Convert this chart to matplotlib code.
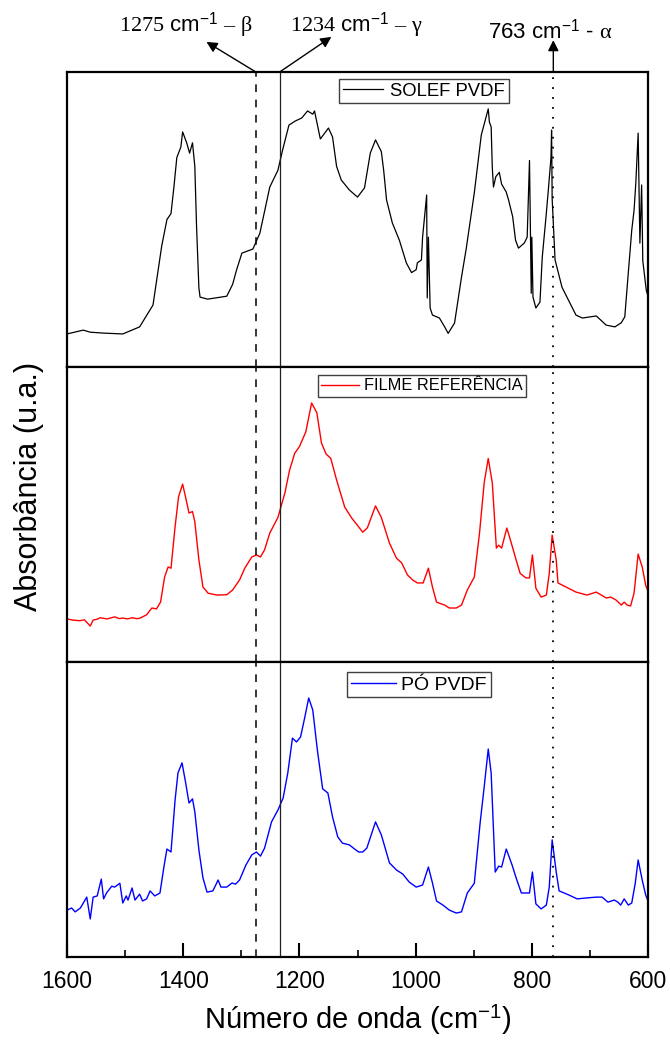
# FTIR spectra of PVDF samples, three stacked panels

import matplotlib.pyplot as plt
from matplotlib.ticker import MultipleLocator

plt.rcParams['font.family'] = ['Liberation Sans', 'DejaVu Sans']
plt.rcParams['mathtext.fontset'] = 'custom'
plt.rcParams['mathtext.rm'] = 'Liberation Serif'
plt.rcParams['mathtext.it'] = 'Liberation Serif:italic'
plt.rcParams['mathtext.bf'] = 'Liberation Serif:bold'
plt.rcParams['mathtext.sf'] = 'Liberation Sans'

# SOLEF PVDF (normalised absorbance, u.a.)
wn_solef = [1600, 1572, 1560, 1538, 1504, 1475, 1452, 1437, 1428, 1421, 1416, 1411,
            1404, 1401, 1394, 1389, 1384, 1380, 1377, 1373, 1371, 1358, 1325, 1315,
            1308, 1299, 1280, 1268, 1251, 1237, 1229, 1218, 1207, 1196, 1186, 1177,
            1174, 1170, 1164, 1150, 1143, 1136, 1128, 1114, 1100, 1088, 1078, 1069,
            1059, 1055, 1050, 1040, 1028, 1016, 1007, 999, 997, 990, 988, 981, 980,
            978, 975, 971, 959, 950, 944, 933, 921, 913, 899, 887, 875, 873, 870,
            868, 866, 862, 856, 852, 844, 840, 833, 828, 823, 813, 808, 804, 801,
            800, 798, 793, 786, 782, 776, 772, 767, 766, 765, 760, 748, 724, 713,
            689, 672, 657, 646, 640, 634, 628, 624, 621, 617, 614, 611, 609, 603, 600]
ab_solef = [.112, .125, .118, .115, .112, .136, .21, .41, .50, .52, .61, .71,
            .746, .797, .76, .725, .76, .68, .475, .268, .237, .23, .24, .28,
            .33, .386, .40, .454, .61, .667, .735, .82, .834, .844, .868, .857,
            .868, .83, .773, .81, .78, .68, .634, .60, .576, .607, .725, .77,
            .73, .667, .566, .488, .43, .353, .32, .33, .353, .363, .44, .583, .234,
            .44, .20, .176, .166, .136, .114, .149, .305, .40, .59, .786, .875, .83, .814,
            .675, .61, .645, .66, .62, .593, .566, .51, .43, .403, .42, .44, .70, .25,
            .44, .237, .20, .22, .373, .50, .59, .71, .803, .57, .363, .27, .176, .166,
            .173, .142, .136, .15, .17, .318, .464, .532, .624, .793, .42, .617, .36, .26, .24]

# Filme referência
wn_filme = [1600, 1590, 1578, 1570, 1560, 1555, 1548, 1543, 1531, 1518, 1510, 1504,
            1496, 1488, 1480, 1475, 1463, 1454, 1446, 1439, 1432, 1426, 1421, 1414,
            1408, 1401, 1396, 1390, 1384, 1380, 1373, 1366, 1357, 1342, 1325, 1315,
            1303, 1294, 1282, 1274, 1267, 1260, 1251, 1237, 1225, 1217, 1208, 1200,
            1189, 1179, 1170, 1162, 1154, 1146, 1136, 1122, 1110, 1098, 1091, 1083,
            1069, 1059, 1045, 1033, 1024, 1014, 1005, 997, 987, 978, 971, 964, 950,
            942, 930, 921, 911, 899, 890, 882, 875, 868, 861, 857, 852, 843, 836,
            827, 820, 810, 804, 799, 793, 784, 775, 770, 765, 758, 755, 741, 724,
            705, 689, 672, 664, 655, 646, 641, 636, 630, 624, 617, 610, 604, 600]
ab_filme = [.146, .142, .140, .143, .122, .142, .145, .150, .146, .153, .147, .149,
            .146, .150, .147, .148, .160, .183, .180, .203, .288, .322, .318, .458,
            .56, .603, .56, .505, .51, .475, .346, .254, .233, .227, .228, .244,
            .278, .318, .356, .363, .356, .38, .437, .49, .573, .65, .708, .73,
            .78, .878, .845, .742, .705, .69, .617, .525, .488, .458, .44, .455,
            .529, .49, .403, .352, .336, .295, .278, .268, .268, .318, .254, .203, .193,
            .183, .183, .193, .244, .288, .437, .607, .69, .607, .386, .396, .386, .454, .408,
            .346, .30, .285, .285, .363, .25, .22, .227, .30, .43, .346, .268, .254, .237,
            .227, .237, .217, .22, .21, .193, .203, .193, .19, .234, .366, .322, .26, .24]

# Pó PVDF
wn_po = [1600, 1592, 1586, 1577, 1566, 1560, 1555, 1548, 1541, 1537, 1532, 1523,
         1518, 1509, 1504, 1498, 1495, 1488, 1483, 1475, 1470, 1463, 1457, 1449,
         1440, 1433, 1428, 1421, 1414, 1409, 1402, 1396, 1390, 1384, 1380, 1373,
         1366, 1359, 1349, 1344, 1340, 1335, 1325, 1316, 1310, 1303, 1292, 1282,
         1274, 1267, 1260, 1248, 1237, 1228, 1220, 1212, 1205, 1198, 1191, 1184,
         1177, 1169, 1160, 1151, 1143, 1134, 1126, 1114, 1105, 1098, 1091, 1084,
         1069, 1059, 1045, 1033, 1022, 1011, 999, 988, 978, 971, 964, 953, 942,
         930, 921, 911, 899, 889, 882, 875, 870, 863, 857, 852, 844, 834, 827,
         818, 804, 799, 793, 784, 775, 770, 765, 758, 753, 748, 736, 722, 707,
         689, 679, 669, 658, 652, 647, 641, 634, 628, 622, 617, 610, 604, 600]
ab_po = [.159, .166, .153, .166, .203, .129, .203, .207, .264, .197, .217, .24,
         .237, .25, .183, .207, .193, .234, .193, .213, .19, .197, .224, .207,
         .217, .308, .366, .356, .532, .624, .658, .593, .522, .536, .492, .363,
         .268, .22, .224, .244, .261, .237, .237, .251, .247, .261, .312, .346,
         .356, .342, .369, .458, .498, .539, .624, .742, .729, .746, .81, .878,
         .837, .70, .57, .556, .475, .407, .386, .38, .366, .356, .356, .369,
         .458, .414, .319, .295, .281, .254, .237, .244, .305, .251, .19, .176, .159,
         .149, .153, .217, .25, .454, .576, .705, .624, .288, .308, .305, .366, .312, .268,
         .217, .217, .288, .18, .163, .176, .237, .397, .288, .224, .22, .21, .197, .200,
         .203, .203, .186, .193, .186, .176, .197, .176, .183, .25, .329, .261, .21, .19]

names = ['SOLEF PVDF', 'FILME REFERÊNCIA', 'PÓ PVDF']
colors = ['black', '#ff0000', '#0000ff']

# marked bands
band_beta = 1275
band_gamma = 1234
band_alpha = 763

fig = plt.figure(figsize=(6.7, 10.43), dpi=100)

H = 295 / 1043
bottoms = [1 - 367 / 1043, 1 - 662 / 1043, 1 - 957 / 1043]
axes = [fig.add_axes([0.1, b, 0.8672, H]) for b in bottoms]

series = [(wn_solef, ab_solef), (wn_filme, ab_filme), (wn_po, ab_po)]
lws = [0.9, 1.0, 1.0]

# legend box settings per panel: anchor, fontsize, handlelength, handletextpad
leg_opts = [((0.468, 0.976), 13.3, 2.2, 0.38),
            ((0.432, 0.973), 11.8, 2.3, 0.33),
            ((0.482, 0.966), 14.0, 2.3, 0.3)]

for ax, (wn, ab), name, c, lw, lo in zip(axes, series, names, colors, lws, leg_opts):
    ax.plot(wn, ab, color=c, lw=lw, label=name)
    ax.set_xlim(1600, 600)
    ax.set_ylim(0, 1)

    ax.axvline(band_beta, color='black', lw=1.1, ls=(0, (5, 5)))
    ax.axvline(band_gamma, color='#222222', lw=0.9)
    ax.axvline(band_alpha, color='black', lw=1.3, ls=(0, (1, 4.5)))

    for s in ax.spines.values():
        s.set_linewidth(1.6)
    ax.tick_params(axis='y', left=False, labelleft=False)
    ax.tick_params(axis='x', bottom=False, labelbottom=False)

    anchor, fs, hl, htp = lo
    leg = ax.legend(loc='upper left', bbox_to_anchor=anchor, borderaxespad=0,
                    fontsize=fs, handlelength=hl, handletextpad=htp,
                    borderpad=0.2, fancybox=False, edgecolor='#404040',
                    framealpha=1)
    leg.get_frame().set_linewidth(1.0)

# only the lowest panel carries the wavenumber axis
ax = axes[2]
ax.xaxis.set_major_locator(MultipleLocator(200))
ax.xaxis.set_minor_locator(MultipleLocator(100))
ax.tick_params(axis='x', which='major', bottom=True, labelbottom=True, direction='in',
               length=10, width=1.5, labelsize=16.5, pad=9)
ax.tick_params(axis='x', which='minor', bottom=True, direction='in', length=5, width=1.2)
ax.set_xlabel('Número de onda (cm$^{\\mathsf{-1}}$)', fontsize=21, labelpad=8)

fig.text(29 / 670, 0.534, 'Absorbância (u.a.)', rotation=90, fontsize=22,
         ha='center', va='center')

# arrows pointing to the band labels above the top panel
top = axes[0]
arrow = dict(arrowstyle='-|>', color='black', lw=1.0, shrinkA=0, shrinkB=0,
             mutation_scale=16)
for x0, tip in [(band_beta, (1360, 1.102)), (band_gamma, (1145, 1.119)),
                (band_alpha, (band_alpha, 1.108))]:
    top.annotate('', xy=tip, xycoords=('data', 'axes fraction'),
                 xytext=(x0, 1.0), textcoords=('data', 'axes fraction'),
                 arrowprops=arrow, annotation_clip=False)

fig.text(119 / 670, 1 - 32 / 1043, r'$\mathrm{1275}$ cm$^{\mathsf{-1}}$ $\mathrm{–\ \beta}$',
         fontsize=16, ha='left', va='baseline')
fig.text(290 / 670, 1 - 32 / 1043, r'$\mathrm{1234}$ cm$^{\mathsf{-1}}$ $\mathrm{–\ \gamma}$',
         fontsize=16, ha='left', va='baseline')
fig.text(488 / 670, 1 - 39 / 1043, r'763 cm$^{\mathsf{-1}}$ - $\mathrm{\alpha}$',
         fontsize=16, ha='left', va='baseline')

fig.savefig('out.png', dpi=100)
